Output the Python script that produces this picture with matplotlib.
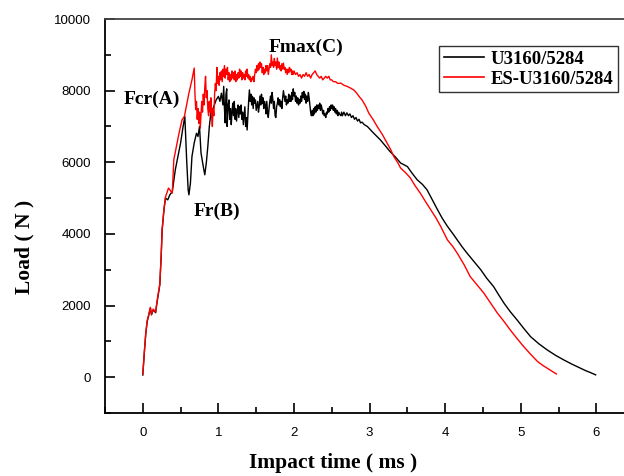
import matplotlib
matplotlib.use("Agg")
import matplotlib.pyplot as plt
from matplotlib.ticker import MultipleLocator

# U3160/5284 (black): (time ms, load N) pairs
black_pts = [
    (0.0, 60), (0.02, 680), (0.04, 1230), (0.058, 1550), (0.08, 1740), (0.10, 1930), (0.115, 1740),
    (0.137, 1880), (0.17, 1800), (0.18, 1970), (0.20, 2250), (0.225, 2580), (0.243, 3370),
    (0.256, 4110), (0.28, 4670), (0.30, 5000), (0.33, 4950), (0.357, 5090), (0.39, 5180),
    (0.43, 5790), (0.50, 6540), (0.53, 6960), (0.556, 7280), (0.58, 6070), (0.60, 5230),
    (0.61, 5090), (0.63, 5420), (0.65, 6160), (0.68, 6540), (0.71, 6810), (0.73, 6720),
    (0.75, 7000), (0.77, 6260), (0.80, 5880), (0.82, 5650), (0.84, 5980), (0.86, 6440),
    (0.88, 7000), (0.90, 7380), (0.92, 7460), (0.94, 7560), (0.97, 7740),
    (1.00, 7840), (1.02, 7700), (1.04, 7930), (1.06, 7600), (1.07, 8120), (1.08, 7500),
    (1.09, 7100), (1.10, 7900), (1.11, 8050), (1.115, 7000), (1.13, 7600), (1.14, 7740),
    (1.15, 7200), (1.16, 7500), (1.17, 7050), (1.18, 7400), (1.19, 7650), (1.20, 7300),
    (1.21, 7700), (1.22, 7200), (1.23, 7500), (1.24, 7150), (1.25, 7450), (1.26, 7600),
    (1.27, 7250), (1.28, 7550), (1.29, 7350), (1.30, 7600), (1.31, 7200), (1.32, 7400),
    (1.33, 7050), (1.34, 7300), (1.35, 7550), (1.36, 7000), (1.37, 7250), (1.38, 6900),
    (1.39, 7300), (1.40, 7700), (1.41, 8020), (1.42, 7700), (1.43, 7900), (1.44, 7600),
    (1.45, 7840), (1.46, 7500), (1.47, 7800), (1.48, 7650), (1.49, 7740), (1.50, 7450),
    (1.52, 7700), (1.53, 7400), (1.54, 7560), (1.55, 7850), (1.56, 7600), (1.57, 7900),
    (1.58, 7650), (1.59, 7800), (1.60, 7500), (1.61, 7700), (1.62, 7600), (1.63, 7350),
    (1.64, 7700), (1.65, 7400), (1.66, 7250), (1.67, 7500), (1.68, 7700), (1.69, 7850),
    (1.70, 7650), (1.71, 7950), (1.72, 7750), (1.73, 7500), (1.74, 7700), (1.75, 7300),
    (1.76, 7250), (1.77, 7550), (1.78, 7650), (1.79, 7800), (1.80, 7600), (1.81, 7750),
    (1.82, 7550), (1.83, 7700), (1.84, 7500), (1.85, 7800), (1.86, 8000), (1.87, 7850),
    (1.88, 7700), (1.89, 7850), (1.90, 7600), (1.91, 7750), (1.92, 7650), (1.93, 7900),
    (1.94, 7700), (1.95, 7850), (1.96, 7700), (1.97, 7950), (1.98, 7750), (1.99, 8050),
    (2.00, 7850), (2.01, 7950), (2.02, 7700), (2.03, 7850), (2.04, 7650), (2.05, 7800),
    (2.06, 7600), (2.07, 7750), (2.08, 7650), (2.09, 7850), (2.10, 7700), (2.11, 7950),
    (2.12, 7800), (2.13, 7980), (2.14, 7750), (2.15, 7900), (2.16, 7650), (2.17, 7850),
    (2.18, 7700), (2.19, 7950), (2.20, 7800), (2.21, 7600), (2.22, 7400), (2.23, 7300),
    (2.24, 7450), (2.25, 7300), (2.26, 7500), (2.27, 7350), (2.28, 7550), (2.29, 7400),
    (2.30, 7600), (2.31, 7450), (2.32, 7600), (2.33, 7500), (2.34, 7650), (2.35, 7450),
    (2.36, 7600), (2.37, 7500), (2.38, 7350), (2.39, 7450), (2.40, 7300), (2.41, 7350),
    (2.42, 7250), (2.43, 7400), (2.44, 7350), (2.45, 7500), (2.46, 7400), (2.47, 7550),
    (2.48, 7450), (2.49, 7600), (2.50, 7500), (2.51, 7600), (2.52, 7450), (2.53, 7550),
    (2.54, 7400), (2.55, 7500), (2.56, 7350), (2.57, 7450), (2.58, 7300), (2.59, 7400),
    (2.60, 7350), (2.62, 7300), (2.63, 7400), (2.64, 7300), (2.66, 7400), (2.68, 7300),
    (2.70, 7380), (2.72, 7300), (2.74, 7350), (2.76, 7250), (2.78, 7300), (2.80, 7200),
    (2.82, 7250), (2.84, 7150), (2.86, 7200), (2.88, 7100), (2.90, 7120), (2.93, 7050),
    (2.97, 7000), (3.05, 6820), (3.14, 6630), (3.20, 6480), (3.27, 6300), (3.34, 6150),
    (3.41, 5980), (3.50, 5880), (3.56, 5700), (3.63, 5510), (3.70, 5380), (3.76, 5230),
    (3.83, 4950), (3.90, 4670), (3.96, 4440), (4.03, 4210), (4.10, 4010), (4.16, 3830),
    (4.22, 3650), (4.29, 3460), (4.38, 3230), (4.47, 3000), (4.55, 2760), (4.64, 2530),
    (4.71, 2290), (4.78, 2060), (4.86, 1830), (4.95, 1600), (5.04, 1360), (5.13, 1130),
    (5.24, 930), (5.35, 760), (5.46, 610), (5.57, 480), (5.68, 360), (5.79, 250),
    (5.86, 180), (5.92, 130), (5.99, 65)]

# ES-U3160/5284 (red)
red_pts = [
    (0.0, 90), (0.02, 700), (0.04, 1250), (0.058, 1580), (0.08, 1760), (0.10, 1950), (0.115, 1760),
    (0.137, 1900), (0.17, 1820), (0.18, 1990), (0.20, 2280), (0.225, 2600), (0.243, 3400),
    (0.256, 4130), (0.28, 4700), (0.30, 5030), (0.34, 5280), (0.39, 5140), (0.41, 6070),
    (0.48, 6820), (0.52, 7190), (0.55, 7280), (0.61, 7930), (0.65, 8300), (0.68, 8630),
    (0.69, 7900), (0.70, 7470), (0.71, 7700), (0.72, 7200), (0.73, 7500), (0.74, 7090),
    (0.75, 7400), (0.76, 6950), (0.77, 7300), (0.78, 7700), (0.79, 7400), (0.80, 7900),
    (0.81, 7600), (0.82, 8100), (0.83, 8400), (0.84, 7800), (0.85, 8000), (0.86, 7500),
    (0.87, 7300), (0.88, 7700), (0.89, 7400), (0.90, 7800), (0.91, 7300), (0.92, 7000),
    (0.93, 7500), (0.94, 7300), (0.95, 7900), (0.96, 8200), (0.97, 8000), (0.98, 8650),
    (0.99, 8200), (1.00, 8400), (1.01, 8150), (1.02, 8500), (1.03, 8300), (1.04, 8550),
    (1.05, 8250), (1.06, 8600), (1.07, 8400), (1.08, 8700), (1.09, 8350), (1.10, 8600),
    (1.11, 8450), (1.12, 8650), (1.13, 8300), (1.14, 8500), (1.15, 8250), (1.16, 8450),
    (1.17, 8300), (1.18, 8550), (1.19, 8350), (1.20, 8500), (1.21, 8300), (1.22, 8550),
    (1.23, 8250), (1.24, 8450), (1.25, 8300), (1.26, 8500), (1.27, 8350), (1.28, 8600),
    (1.29, 8400), (1.30, 8550), (1.31, 8300), (1.32, 8500), (1.33, 8350), (1.34, 8450),
    (1.35, 8300), (1.36, 8550), (1.37, 8400), (1.38, 8600), (1.39, 8350), (1.40, 8450),
    (1.41, 8300), (1.42, 8400), (1.43, 8250), (1.44, 8350), (1.45, 8300), (1.46, 8400),
    (1.47, 8250), (1.48, 8450), (1.49, 8600), (1.50, 8500), (1.51, 8700), (1.52, 8550),
    (1.53, 8750), (1.54, 8600), (1.55, 8800), (1.56, 8650), (1.57, 8750), (1.58, 8500),
    (1.59, 8650), (1.60, 8450), (1.61, 8600), (1.62, 8500), (1.63, 8700), (1.64, 8550),
    (1.65, 8700), (1.66, 8450), (1.67, 8600), (1.68, 8750), (1.69, 8650), (1.70, 9000),
    (1.71, 8700), (1.72, 8800), (1.73, 8650), (1.74, 8900), (1.75, 8700), (1.76, 8800),
    (1.77, 8600), (1.78, 8910), (1.79, 8650), (1.80, 8800), (1.81, 8600), (1.82, 8700),
    (1.83, 8550), (1.84, 8750), (1.85, 8600), (1.86, 8770), (1.87, 8600), (1.88, 8650),
    (1.89, 8500), (1.90, 8600), (1.91, 8450), (1.92, 8600), (1.93, 8500), (1.94, 8650),
    (1.95, 8550), (1.96, 8600), (1.97, 8450), (1.98, 8550), (1.99, 8450), (2.00, 8550),
    (2.02, 8450), (2.04, 8500), (2.06, 8400), (2.08, 8450), (2.10, 8350), (2.12, 8450),
    (2.14, 8400), (2.16, 8500), (2.18, 8400), (2.20, 8450), (2.22, 8350), (2.24, 8450),
    (2.26, 8500), (2.28, 8550), (2.30, 8450), (2.32, 8400), (2.34, 8350), (2.36, 8400),
    (2.38, 8300), (2.40, 8350), (2.42, 8400), (2.44, 8350), (2.46, 8400), (2.48, 8300),
    (2.50, 8300), (2.52, 8250), (2.55, 8250), (2.58, 8200), (2.62, 8210), (2.66, 8150),
    (2.70, 8120), (2.74, 8080), (2.79, 8020), (2.83, 7930), (2.86, 7840), (2.90, 7740),
    (2.95, 7560), (2.99, 7370), (3.05, 7180), (3.10, 7000), (3.17, 6770), (3.23, 6540),
    (3.28, 6350), (3.32, 6160), (3.37, 6000), (3.41, 5840), (3.48, 5700), (3.54, 5560),
    (3.60, 5350), (3.67, 5140), (3.74, 4900), (3.81, 4670), (3.88, 4440), (3.94, 4210),
    (4.03, 3830), (4.10, 3650), (4.16, 3460), (4.25, 3140), (4.33, 2810), (4.42, 2580),
    (4.51, 2350), (4.60, 2070), (4.69, 1790), (4.78, 1550), (4.86, 1320), (4.95, 1080),
    (5.04, 850), (5.13, 640), (5.22, 440), (5.29, 330), (5.35, 250), (5.41, 170), (5.47, 90)]

t_black = [p[0] for p in black_pts]
load_black = [p[1] for p in black_pts]
t_red = [p[0] for p in red_pts]
load_red = [p[1] for p in red_pts]

series_labels = ["U3160/5284", "ES-U3160/5284"]
x_ticks = [0, 1, 2, 3, 4, 5, 6]
y_ticks = [0, 2000, 4000, 6000, 8000, 10000]

W, H = 624, 476
fig = plt.figure(figsize=(W / 100, H / 100), dpi=100)
left_px, top_px, bottom_px = 105, 19, 413
px_per_ms = 75.6
width_px = 7 * px_per_ms
ax = fig.add_axes([left_px / W, (H - bottom_px) / H, width_px / W, (bottom_px - top_px) / H])

ax.plot(t_black, load_black, color="black", lw=1.0, label=series_labels[0])
ax.plot(t_red, load_red, color="#ff0000", lw=1.0, label=series_labels[1])

ax.set_xlim(-0.5, 6.5)
ax.set_ylim(-1000, 10000)
ax.set_xticks(x_ticks)
ax.set_yticks(y_ticks)
ax.xaxis.set_minor_locator(MultipleLocator(0.5))
ax.yaxis.set_minor_locator(MultipleLocator(1000))
ax.tick_params(which="both", direction="in", top=False, right=False, width=1.2)
ax.tick_params(which="major", length=7, pad=10, labelsize=9.5)
ax.tick_params(which="minor", length=4)
for lab in ax.get_xticklabels() + ax.get_yticklabels():
    lab.set_family("Liberation Sans")
for s in ["left", "bottom"]:
    ax.spines[s].set_linewidth(1.3)
ax.spines["top"].set_linewidth(1.3)
ax.spines["top"].set_color("#444444")
ax.spines["right"].set_visible(False)

serif_bold = dict(family="Liberation Serif", weight="bold")
fig.text(333 / W, 1 - 463 / H, "Impact time ( ms )", ha="center", va="center", fontsize=15.5, **serif_bold)
fig.text(24 / W, 1 - 247 / H, "Load ( N )", ha="center", va="center", rotation=90, fontsize=15.5, **serif_bold)

ax.text(0.12, 7750, "Fcr(A)", ha="center", va="center", fontsize=14, **serif_bold)
ax.text(0.98, 4640, "Fr(B)", ha="center", va="center", fontsize=14, **serif_bold)
ax.text(2.16, 9220, "Fmax(C)", ha="center", va="center", fontsize=14, **serif_bold)

leg = ax.legend(loc="upper left", bbox_to_anchor=(439 / W, 1 - 46 / H), bbox_transform=fig.transFigure,
                prop=dict(family="Liberation Serif", weight="bold", size=13.5),
                frameon=True, fancybox=False, shadow=False, borderpad=0.25,
                handlelength=2.15, handletextpad=0.35, labelspacing=0.15, borderaxespad=0)
leg.get_frame().set_edgecolor("#333333")
leg.get_frame().set_linewidth(1.0)
leg.get_frame().set_alpha(1)
for line in leg.get_lines():
    line.set_linewidth(1.2)

fig.savefig("out.png", dpi=100)
